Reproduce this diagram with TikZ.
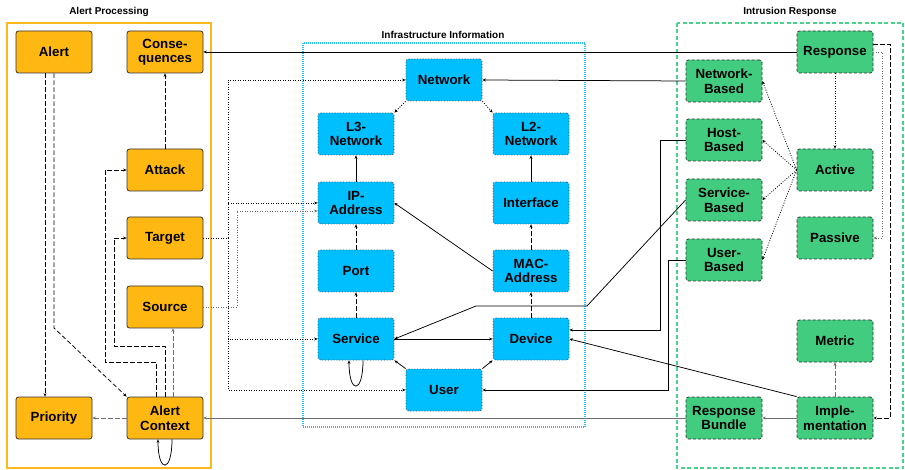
\documentclass[tikz,border=0pt]{standalone}
\usepackage{fontspec}
\setmainfont{Liberation Sans}
\usetikzlibrary{arrows.meta,calc}
\definecolor{orfill}{RGB}{255,184,18}
\definecolor{blfill}{RGB}{0,191,255}
\definecolor{grfill}{RGB}{66,204,128}
\definecolor{orline}{RGB}{255,184,28}
\definecolor{blline}{RGB}{40,190,255}
\definecolor{grline}{RGB}{72,210,138}
\definecolor{bord}{RGB}{50,50,50}
\definecolor{gline}{RGB}{110,110,110}
\begin{document}
\begin{tikzpicture}[x=1pt,y=-1pt,
  box/.style={minimum width=76pt,minimum height=42pt,rounded corners=2.5pt,
    font=\fontsize{13.3}{14.5}\selectfont\bfseries,align=center,inner sep=1pt,line width=0.8pt},
  orbox/.style={box,fill=orfill,draw=bord},
  blbox/.style={box,fill=blfill,draw=darkgray,dotted},
  grbox/.style={box,fill=grfill,draw=bord,dash pattern=on 3pt off 2pt},
  title/.style={font=\fontsize{10}{12}\selectfont\bfseries},
  arr/.style={-{Stealth[length=3.5pt,width=3pt]},line width=0.75pt},
  dsh/.style={arr,dash pattern=on 4.5pt off 2.5pt},
  dtt/.style={arr,dash pattern=on 1pt off 1.5pt},
  gr/.style={draw=gline}]
\useasboundingbox (0,0) rectangle (905,470);
% containers
\draw[orline,line width=1.2pt] (7,23) rectangle (211,468);
\draw[blline,line width=1.2pt,dash pattern=on 1pt off 1pt] (303,43) rectangle (585,427);
\draw[grline,line width=1.2pt,dash pattern=on 4pt off 2.5pt] (677,23) rectangle (903,468);
\node[title] (tap) at (109,12) {Alert Processing};
\node[title] (tii) at (443,35) {Infrastructure Information};
\node[title] (tir) at (790,12) {Intrusion Response};
% alert processing
\node[orbox] (alert) at (54,52) {Alert};
\node[orbox] (conseq) at (165,52) {Conse-\\quences};
\node[orbox] (attack) at (165,170) {Attack};
\node[orbox] (target) at (165,238) {Target};
\node[orbox] (source) at (165,307) {Source};
\node[orbox] (priority) at (54,418) {Priority};
\node[orbox] (actx) at (165,418) {Alert\\Context};
% infrastructure
\node[blbox] (network) at (444,80) {Network};
\node[blbox] (lthree) at (356,134) {L3-\\Network};
\node[blbox] (ltwo) at (531,134) {L2-\\Network};
\node[blbox] (ip) at (356,203) {IP-\\Address};
\node[blbox] (iface) at (531,203) {Interface};
\node[blbox] (port) at (356,271) {Port};
\node[blbox] (mac) at (531,271) {MAC-\\Address};
\node[blbox] (service) at (356,339) {Service};
\node[blbox] (device) at (531,339) {Device};
\node[blbox] (user) at (444,390) {User};
% intrusion response
\node[grbox] (response) at (835,52) {Response};
\node[grbox] (netb) at (724,81) {Network-\\Based};
\node[grbox] (hostb) at (724,140) {Host-\\Based};
\node[grbox] (servb) at (724,200) {Service-\\Based};
\node[grbox] (userb) at (724,260) {User-\\Based};
\node[grbox] (active) at (835,170) {Active};
\node[grbox] (passive) at (835,238) {Passive};
\node[grbox] (metric) at (835,341) {Metric};
\node[grbox] (impl) at (835,418) {Imple-\\mentation};
\node[grbox] (rbundle) at (724,418) {Response\\Bundle};
% coordinates
\coordinate (c1) at (54,328);
\coordinate (c2) at (105,362);
\coordinate (c3) at (114,346);
\coordinate (c4) at (228,238);
\coordinate (c5) at (237,307);
\coordinate (c6) at (660,140);
\coordinate (c7) at (587,306);
\coordinate (c8) at (476,306);
\coordinate (c9) at (668,390);
\coordinate (c10) at (882,52);
\coordinate (c11) at (890,44);
% left edges
\draw[dsh] ([xshift=-9pt]alert.south) -- ([xshift=-9pt]priority.north);
\draw[dsh] (alert.south) -- (c1) -- (actx.north west);
\draw[dsh] (attack) -- (conseq);
\draw[dsh] ([xshift=-9pt]actx.north) |- (c2) |- (attack.west);
\draw[dsh] (actx.north) |- (c3) |- (target.west);
\draw[dsh,gr] ([xshift=8pt]actx.north) -- ([xshift=8pt]source.south);
\draw[dsh,gr] (actx.west) -- (priority.east);
\draw[arr] ([xshift=7pt]actx.south) .. controls ([xshift=7pt,yshift=-34pt]actx.south) and ([xshift=-7pt,yshift=-34pt]actx.south) .. ([xshift=-7pt]actx.south);
% left to middle dotted
\draw[dtt] (target.east) -- (c4) |- (network.west);
\draw[dtt] (target.east) -- (c4) |- (ip.west);
\draw[dtt] (target.east) -- (c4) |- (service.west);
\draw[dtt] (target.east) -- (c4) |- (user.west);
\draw[dtt,gr] (source.east) -- (c5) |- ([yshift=-8pt]ip.west);
% infrastructure edges
\draw[dtt] (network.south west) -- (lthree.north east);
\draw[dtt] (network.south east) -- (ltwo.north west);
\draw[arr] (ip) -- (lthree);
\draw[arr] (iface) -- (ltwo);
\draw[dsh] (port) -- (ip);
\draw[dsh] (service) -- (port);
\draw[dsh] (mac) -- (iface);
\draw[dsh] (device) -- (mac);
\draw[arr] (mac.west) -- (ip.east);
\draw[arr] (service) -- (device);
\draw[arr] (user.north west) -- (service.south east);
\draw[arr] (user.north east) -- (device.south west);
\draw[arr] ([xshift=7pt]service.south) .. controls ([xshift=7pt,yshift=-34pt]service.south) and ([xshift=-7pt,yshift=-34pt]service.south) .. ([xshift=-7pt]service.south);
% right to middle/left
\draw[arr] (response.west) -- (conseq.east);
\draw[arr] (netb.west) -- (network.east);
\draw[arr] (hostb.west) -- (c6) |- ([yshift=9pt]device.east);
\draw[arr] (servb.west) -- (c7) -- (c8) -- (service.east);
\draw[arr] (userb.west) -| (c9) -- (user.east);
\draw[arr] (impl.north west) -- (device.east);
\draw[arr,gr] (rbundle.west) -- (actx.east);
% right edges
\draw[arr,gr] (impl) -- (rbundle);
\draw[dsh,gr] (impl) -- (metric);
\draw[dtt] (response) -- (active);
\draw[dtt,gr] (response.east) -- (c10) |- (passive.east);
\draw[dsh] ([yshift=8pt]response.east) -- (c11) |- (impl.east);
\draw[dtt] (active.west) -- (netb.east);
\draw[dtt] (active.west) -- (hostb.east);
\draw[dtt] (active.west) -- (servb.east);
\draw[dtt] (active.west) -- (userb.east);
\end{tikzpicture}
\end{document}
